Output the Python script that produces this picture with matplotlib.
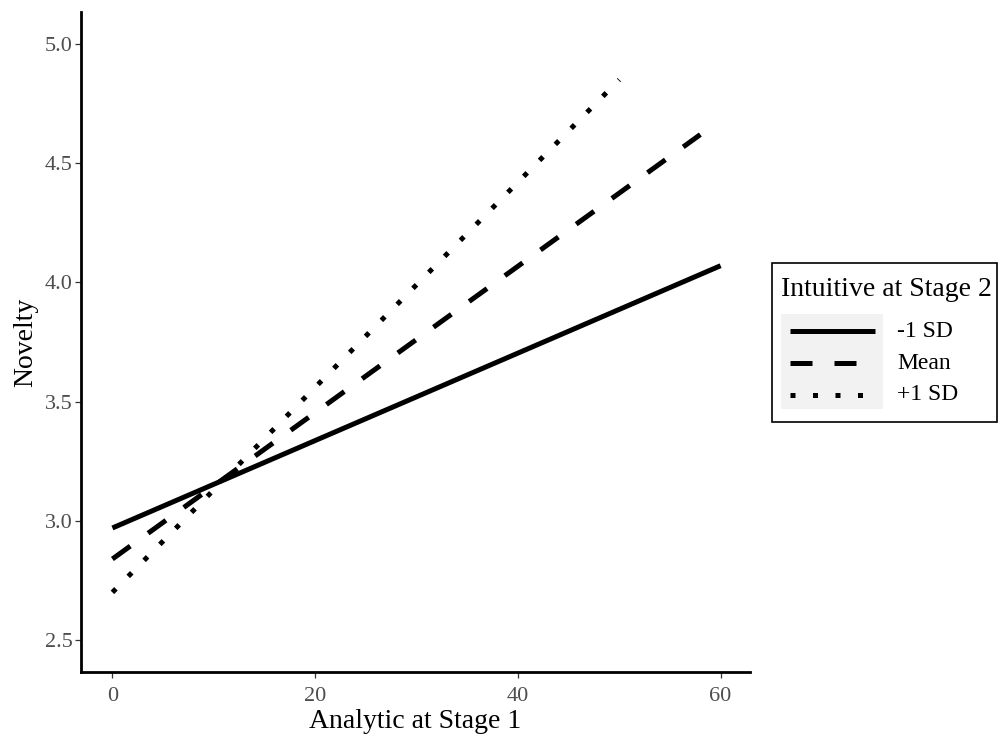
import matplotlib
matplotlib.use("Agg")
import matplotlib.pyplot as plt
from matplotlib.lines import Line2D
from matplotlib.patches import Rectangle

plt.rcParams['font.family'] = ['Liberation Serif', 'DejaVu Serif']

# simple slopes: Novelty ~ Analytic at Stage 1, by Intuitive at Stage 2
groups = ['-1 SD', 'Mean', '+1 SD']
x_start = [0, 0, 0]
x_end = [60, 58, 50]
y_start = [2.97, 2.84, 2.70]
y_end = [4.07, 4.62, 4.85]

xticks = [0, 20, 40, 60]
yticks = [2.5, 3.0, 3.5, 4.0, 4.5, 5.0]

styles = {
    '-1 SD': dict(linestyle='-'),
    'Mean': dict(linestyle=(0, (4.4, 4.4))),
    '+1 SD': dict(linestyle=(0, (1.0, 3.5))),
}
lw = 3.6

fig = plt.figure(figsize=(9.99, 7.38), dpi=100)
W, H = 999, 738
ax = fig.add_axes([81 / W, 1 - 672 / H, (750 - 81) / W, (672 - 12) / H])

for g, x0, x1, y0, y1 in zip(groups, x_start, x_end, y_start, y_end):
    ax.plot([x0, x1], [y0, y1], color='black', lw=lw, solid_capstyle='butt',
            dash_capstyle='butt', **styles[g])

ax.set_xlim(-3.1, 62.9)
ax.set_ylim(2.366, 5.134)
ax.set_xticks(xticks)
ax.set_yticks(yticks)
ax.set_xticklabels([str(t) for t in xticks])
ax.set_yticklabels(['%.1f' % t for t in yticks])
for s in ['top', 'right']:
    ax.spines[s].set_visible(False)
for s in ['left', 'bottom']:
    ax.spines[s].set_linewidth(2.0)
ax.tick_params(length=4, width=0.9, color='#333333', labelcolor='#4D4D4D',
               labelsize=16, pad=2)
ax.tick_params(axis='x', pad=7)
ax.set_xlabel('Analytic at Stage 1', fontsize=20, labelpad=2)
ax.set_ylabel('Novelty', fontsize=20, labelpad=5)

# legend drawn by hand to mimic ggplot's layout
def fx(px):
    return px / W

def fy(py):
    return 1 - py / H

fig.add_artist(Rectangle((fx(772), fy(422)), fx(997) - fx(772), fy(263) - fy(422),
                         transform=fig.transFigure, facecolor='white',
                         edgecolor='black', lw=1.2))
fig.add_artist(Rectangle((fx(781), fy(409)), fx(883) - fx(781), fy(314) - fy(409),
                         transform=fig.transFigure, facecolor='#F2F2F2',
                         edgecolor='none'))
fig.text(fx(781), fy(290), 'Intuitive at Stage 2', fontsize=20, va='center',
         ha='left')
rows = [331, 363, 395]
for g, ry in zip(groups, rows):
    fig.add_artist(Line2D([fx(790), fx(875)], [fy(ry), fy(ry)], color='black',
                          lw=lw, transform=fig.transFigure,
                          solid_capstyle='butt', dash_capstyle='butt', **styles[g]))
    fig.text(fx(897), fy(ry), g, fontsize=17, va='center', ha='left')

fig.savefig('out.png', dpi=100)
